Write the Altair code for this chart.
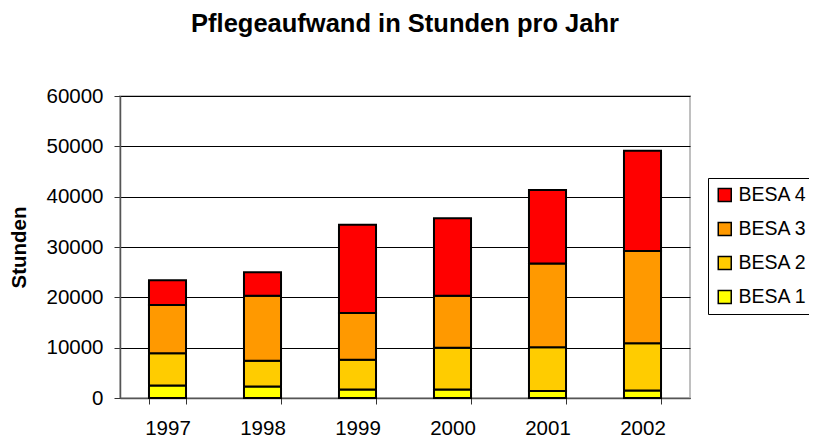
import altair as alt
import pandas as pd

years = ["1997", "1998", "1999", "2000", "2001", "2002"]
besa1 = [2500, 2300, 1700, 1700, 1400, 1500]
besa2 = [6400, 5100, 5900, 8300, 8700, 9400]
besa3 = [9600, 12900, 9300, 10300, 16600, 18300]
besa4 = [4900, 4700, 17500, 15400, 14600, 19900]
series = ["BESA 1", "BESA 2", "BESA 3", "BESA 4"]
colors = {"BESA 4": "#FF0000", "BESA 3": "#FF9900", "BESA 2": "#FFCC00", "BESA 1": "#FFFF00"}
legend_order = ["BESA 4", "BESA 3", "BESA 2", "BESA 1"]

rows = []
for name, vals in zip(series, [besa1, besa2, besa3, besa4]):
    for y, v in zip(years, vals):
        rows.append({"Jahr": y, "Stufe": name, "Stunden": v, "ord": series.index(name)})
df = pd.DataFrame(rows)

FONT = "Liberation Sans"

chart = alt.Chart(df).mark_bar(stroke="black", strokeWidth=2).encode(
    x=alt.X("Jahr:N", sort=years,
            scale=alt.Scale(paddingInner=0.61, paddingOuter=0.305),
            axis=alt.Axis(title=None, labelAngle=0, labelFontSize=20.5, labelColor="black",
                          labelFont=FONT, tickBand="extent", tickSize=6, tickColor="#333",
                          domainColor="#555", domainWidth=1.5, labelPadding=14, grid=False)),
    y=alt.Y("Stunden:Q", stack="zero",
            scale=alt.Scale(domain=[0, 60000], nice=False),
            axis=alt.Axis(title="Stunden", values=[0, 10000, 20000, 30000, 40000, 50000, 60000],
                          format="d", labelFontSize=20.5, labelFont=FONT, labelColor="black",
                          tickSize=6, tickColor="#333", domainColor="#555", domainWidth=1.5,
                          labelPadding=11, grid=True, gridColor="black", gridWidth=1,
                          titleFont=FONT, titleFontSize=20.5, titleFontWeight="bold",
                          titleColor="black", titleX=-101, titleY=151, titleAngle=270,
                          titleAlign="center", titleBaseline="middle")),
    color=alt.Color("Stufe:N", sort=legend_order,
                    scale=alt.Scale(domain=legend_order, range=[colors[s] for s in legend_order]),
                    legend=alt.Legend(title=None, orient="none", legendX=588, legendY=82,
                                      symbolType="square", symbolSize=169,
                                      symbolStrokeColor="black", symbolStrokeWidth=1.5,
                                      labelFont=FONT, labelFontSize=19.5, labelColor="black",
                                      clipHeight=20, rowPadding=14, padding=7,
                                      strokeColor="black", fillColor="white",
                                      labelOffset=4)),
    order=alt.Order("ord:Q", sort="ascending"),
).properties(
    width=570,
    height=302,
    title=alt.TitleParams("Pflegeaufwand in Stunden pro Jahr", font=FONT, fontSize=25.5,
                          fontWeight="bold", color="black", anchor="middle", offset=49),
    autosize=alt.AutoSizeParams(type="none"),
    padding={"left": 112, "top": 88, "right": 119, "bottom": 42},
).configure_view(stroke="#c0c0c0", strokeWidth=2)

chart.save("out.html", embed_options={"renderer": "svg", "actions": False})
